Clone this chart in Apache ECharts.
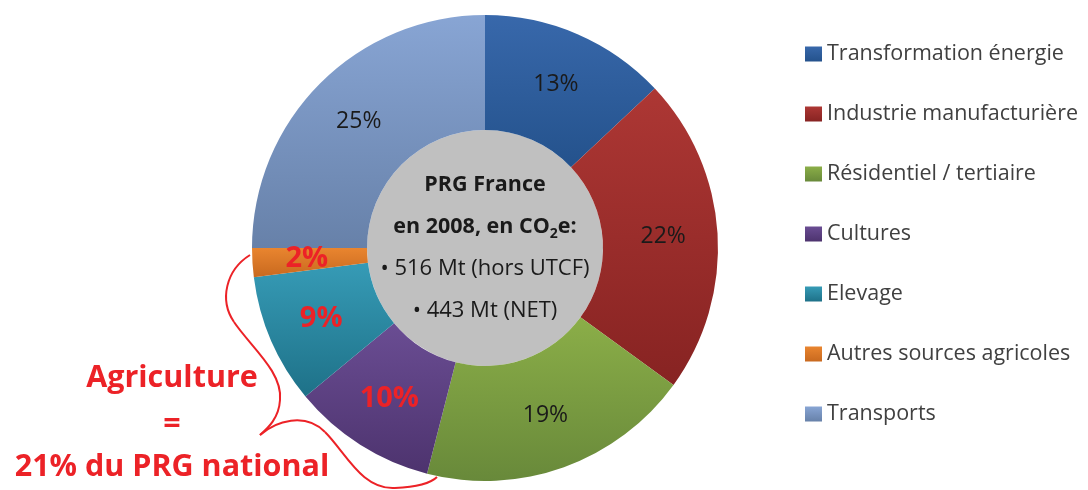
<!DOCTYPE html>
<html>
<head>
<meta charset="utf-8">
<script src="https://cdn.jsdelivr.net/npm/echarts@6/dist/echarts.min.js"></script>
<style>
  html, body { margin: 0; padding: 0; background: #fff; }
  #chart { width: 1088px; height: 490px; }
</style>
</head>
<body>
<div id="chart"></div>
<script>
// secteurs, part du PRG (%)
const sectors = ['Transformation énergie', 'Industrie manufacturière', 'Résidentiel / tertiaire', 'Cultures', 'Elevage', 'Autres sources agricoles', 'Transports']
const shares = [13, 22, 19, 10, 9, 2, 25]
// secteurs agricoles, étiquettes en rouge
const agriSectors = ['Cultures', 'Elevage', 'Autres sources agricoles']
// dégradés haut -> bas
const topColors = ['#3868ab', '#ad3734', '#8bae48', '#6a4d93', '#369bb6', '#e9852f', '#88a5d4']
const bottomColors = ['#24528c', '#872322', '#68893a', '#4d336e', '#1e7188', '#c8691f', '#6781a9']

const RED = '#ec2227'
const FONT = '"Open Sans", "Liberation Sans", sans-serif'

const chart = echarts.init(document.getElementById('chart'))

function gradient(top, bottom) {
    return {
        type: 'linear', x: 0, y: 0, x2: 0, y2: 1,
        colorStops: [
            { offset: 0, color: top },
            { offset: 1, color: bottom }
        ]
    }
}

const pieData = sectors.map((name, i) => {
    const item = {
        name: name,
        value: shares[i],
        itemStyle: { color: gradient(topColors[i], bottomColors[i]) }
    }
    if (agriSectors.indexOf(name) >= 0) {
        item.label = { color: RED, fontWeight: 'bold', fontSize: 29 }
    }
    return item
})

// accolade rouge : segments de Bézier [x1,y1, cp1x,cp1y, cp2x,cp2y, x2,y2]
const braceSegments = [
    [250, 255, 226, 270, 219, 300, 234, 322],
    [234, 322, 250, 346, 283, 372, 280, 400],
    [280, 400, 279, 418, 268, 428, 260, 435],
    [260, 435, 276, 421, 305, 412, 325, 432],
    [325, 432, 346, 453, 362, 490, 395, 488],
    [395, 488, 416, 487, 430, 484, 437, 477]
]
const braceGraphics = braceSegments.map(s => ({
    type: 'bezierCurve',
    silent: true,
    shape: { x1: s[0], y1: s[1], cpx1: s[2], cpy1: s[3], cpx2: s[4], cpy2: s[5], x2: s[6], y2: s[7] },
    style: { fill: null, stroke: RED, lineWidth: 2 }
}))

const option = {
    backgroundColor: '#fff',
    animation: false,
    legend: {
        orient: 'vertical',
        left: 800,
        top: 38,
        itemWidth: 17,
        itemHeight: 15,
        itemGap: 38,
        icon: 'rect',
        selectedMode: false,
        textStyle: {
            fontFamily: FONT,
            fontSize: 21.5,
            color: '#404040'
        },
        data: sectors
    },
    series: [
        {
            // disque central gris
            type: 'pie',
            center: [485, 248],
            radius: [0, 118],
            silent: true,
            z: 1,
            itemStyle: { color: '#c0c0c0' },
            label: {
                show: true,
                position: 'center',
                fontFamily: FONT,
                color: '#1a1a1a',
                formatter: [
                    '{b|PRG France}',
                    '{b|en 2008, en CO}{sub|2}{b|e:}',
                    '{n|• 516 Mt (hors UTCF)}',
                    '{n|• 443 Mt (NET)}'
                ].join('\n'),
                rich: {
                    b: { fontFamily: FONT, fontSize: 21.5, fontWeight: 'bold', color: '#1a1a1a', lineHeight: 42 },
                    sub: { fontFamily: FONT, fontSize: 14, fontWeight: 'bold', color: '#1a1a1a', lineHeight: 42, padding: [14, 0, 0, 0] },
                    n: { fontFamily: FONT, fontSize: 22, color: '#1a1a1a', lineHeight: 42 }
                }
            },
            labelLine: { show: false },
            data: [{ name: 'centre', value: 1 }]
        },
        {
            type: 'pie',
            center: [485, 248],
            radius: [118, 233],
            startAngle: 90,
            clockwise: true,
            z: 2,
            itemStyle: { borderWidth: 0 },
            label: {
                show: true,
                position: 'inside',
                formatter: '{c}%',
                fontFamily: FONT,
                fontSize: 23,
                color: '#1a1a1a'
            },
            labelLine: { show: false },
            emphasis: { disabled: true },
            data: pieData
        }
    ],
    graphic: braceGraphics.concat([
        {
            type: 'text',
            style: {
                x: 172, y: 378,
                text: 'Agriculture',
                fill: RED,
                align: 'center',
                verticalAlign: 'middle',
                font: 'bold 30.5px ' + FONT
            }
        },
        {
            type: 'text',
            style: {
                x: 172, y: 424,
                text: '=',
                fill: RED,
                align: 'center',
                verticalAlign: 'middle',
                font: 'bold 30.5px ' + FONT
            }
        },
        {
            type: 'text',
            style: {
                x: 172, y: 467,
                text: '21% du PRG national',
                fill: RED,
                align: 'center',
                verticalAlign: 'middle',
                font: 'bold 30.5px ' + FONT
            }
        }
    ])
}

chart.setOption(option)
</script>
</body>
</html>
